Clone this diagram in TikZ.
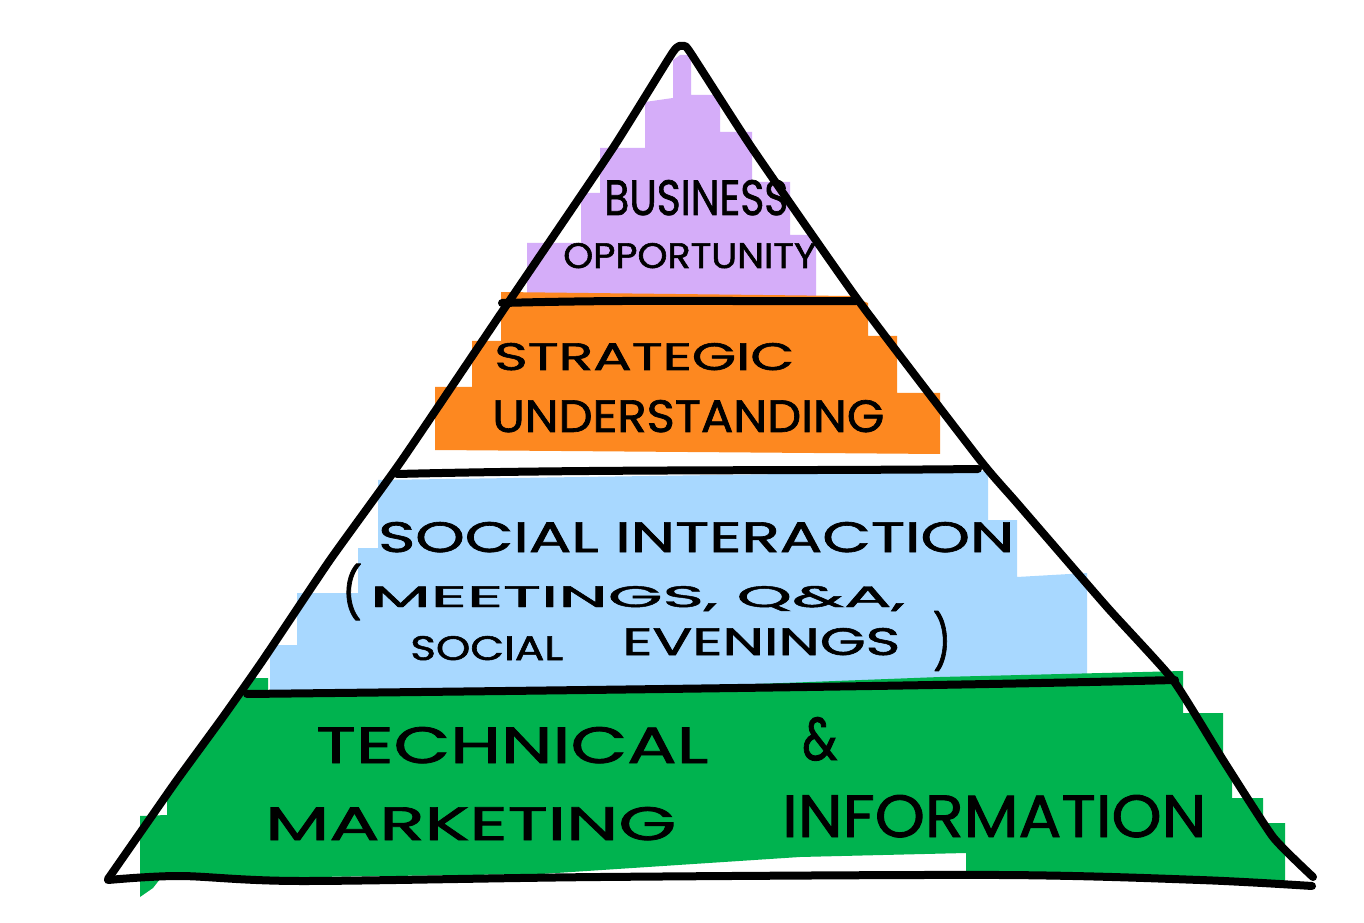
\documentclass[tikz,border=0pt]{standalone}
\usepackage{fontspec}
\setmainfont{Poppins}[FakeBold=1.5]
\usepackage{graphicx}
\newlength\pxu
\setlength\pxu{0.75pt}
\newcommand\fitw[3]{\resizebox{#1\pxu}{#2\pxu}{#3}}
\definecolor{lpurple}{HTML}{D5ADF9}
\definecolor{lorange}{HTML}{FD8820}
\definecolor{lblue}{HTML}{A8D8FF}
\definecolor{lgreen}{HTML}{00B34F}
\tikzset{
  lbl/.style={inner sep=0pt, anchor=base west, text=black},
  paren/.style={inner sep=0pt, anchor=center, text=black},
  edgeline/.style={line width=6pt, line cap=round, line join=round, black},
  divider/.style={line width=6pt, line cap=round, black},
}
\begin{document}
\begin{tikzpicture}[x=0.75pt,y=-0.75pt]
\useasboundingbox (0,0) rectangle (1364,923);
\fill[white] (0,0) rectangle (1364,923);

% layer fills
\fill[lpurple] (673,60) -- (680,55) -- (691,55) -- (691,95) -- (720,95) -- (720,132) -- (752,132) -- (752,182) -- (790,182) -- (790,235) -- (816,235) -- (816,297) -- (527,297) -- (527,243) -- (581,243) -- (581,193) -- (600,193) -- (600,148) -- (645,148) -- (645,102) -- (673,98) -- cycle;
\fill[lorange] (501,292) -- (850,296) -- (868,303) -- (868,336) -- (897,336) -- (897,393) -- (940,393) -- (940,454) -- (435,450) -- (435,387) -- (472,387) -- (472,341) -- (501,341) -- cycle;
\fill[lblue] (378,480) -- (988,471) -- (988,520) -- (1017,520) -- (1017,577) -- (1087,573) -- (1087,692) -- (270,693) -- (270,645) -- (297,645) -- (297,593) -- (358,593) -- (358,548) -- (378,548) -- cycle;
\fill[lgreen] (250,678) -- (268,678) -- (268,693) -- (600,690) -- (940,677) -- (1183,671) -- (1183,713) -- (1223,713) -- (1223,768) -- (1232,768) -- (1232,798) -- (1263,798) -- (1263,823) -- (1285,823) -- (1285,882) -- (966,878) -- (966,853) -- (800,857) -- (541,874) -- (160,879) -- (153,888) -- (140,897) -- (140,816) -- (167,815) -- (167,792) -- (180,778) -- (226,715) -- cycle;

% pyramid outline
\draw[edgeline] plot[smooth, tension=0.3] coordinates {(108,879) (147,823) (177,780) (223,717) (263,660) (330,560) (402,460) (510,300) (613,148) (673,52) (683,46) (690,52) (752,148) (858,300) (980,460) (1017,503) (1107,607) (1173,680) (1223,760) (1273,837) (1313,877)};
\draw[edgeline] plot[smooth, tension=0.5] coordinates {(108,880) (180,876) (300,881) (600,877) (1000,875) (1200,880) (1312,886)};

% dividers
\draw[divider] (502,303) .. controls (650,299) and (750,302) .. (856,301);
\draw[divider] (397,474) .. controls (600,469) and (800,471) .. (978,469);
\draw[divider] (247,694) .. controls (600,690) and (940,686) .. (1175,680);

% labels
\node[lbl] (t1) at (604,215) {\fitw{184}{35}{BUSINESS}};
\node[lbl] (t2) at (563,268) {\fitw{253}{25}{OPPORTUNITY}};
\node[lbl] (t3) at (494,370) {\fitw{300}{27}{STRATEGIC}};
\node[lbl] (t4) at (492,432) {\fitw{392}{32}{UNDERSTANDING}};
\node[lbl] (t5) at (378,552) {\fitw{636}{30}{SOCIAL INTERACTION}};
\node[paren] (t6p) at (352,592) {\fitw{20}{47}{(}};
\node[lbl] (t6) at (370,607) {\fitw{535}{21}{MEETINGS, Q\&A,}};
\node[lbl] (t7) at (410,660) {\fitw{153}{24}{SOCIAL}};
\node[lbl] (t8) at (622,655) {\fitw{278}{27}{EVENINGS}};
\node[paren] (t8p) at (942,641) {\fitw{18}{50}{)}};
\node[lbl] (t9) at (316,763) {\fitw{392}{36}{TECHNICAL}};
\node[lbl] (t10) at (802,760) {\fitw{35}{43}{\&}};
\node[lbl] (t11) at (265,840) {\fitw{411}{33}{MARKETING}};
\node[lbl] (t12) at (782,837) {\fitw{424}{42}{INFORMATION}};
\end{tikzpicture}
\end{document}
